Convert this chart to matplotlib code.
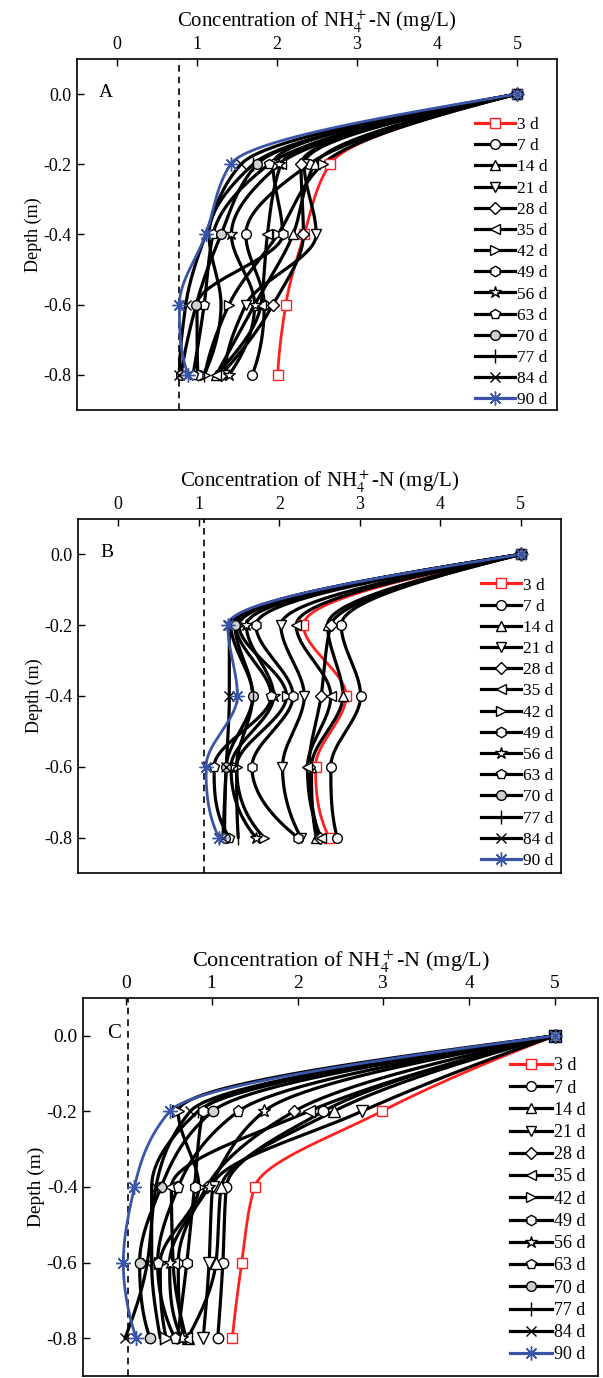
# %% imports
import numpy as np
import matplotlib
matplotlib.use('Agg')
import matplotlib.pyplot as plt
from matplotlib.lines import Line2D

# %% data (concentration in mg/L at each depth)
depth = [0.0, -0.2, -0.4, -0.6, -0.8]
days = ['3 d', '7 d', '14 d', '21 d', '28 d', '35 d', '42 d',
        '49 d', '56 d', '63 d', '70 d', '77 d', '84 d', '90 d']

concA = [
    [5, 2.66, 2.34, 2.11, 2.01],
    [5, 2.40, 1.61, 1.84, 1.69],
    [5, 2.47, 2.20, 1.72, 1.24],
    [5, 2.34, 2.49, 1.61, 1.35],
    [5, 2.30, 2.33, 1.95, 1.30],
    [5, 2.05, 1.88, 1.80, 1.24],
    [5, 2.57, 2.01, 1.40, 1.10],
    [5, 1.95, 2.07, 1.00, 1.01],
    [5, 2.03, 1.43, 1.72, 1.40],
    [5, 1.90, 1.20, 1.09, 0.95],
    [5, 1.75, 1.30, 0.99, 0.80],
    [5, 1.70, 1.15, 1.30, 1.09],
    [5, 1.55, 1.11, 0.86, 0.78],
    [5, 1.42, 1.11, 0.78, 0.89],
]
concB = [
    [5, 2.30, 2.83, 2.45, 2.62],
    [5, 2.77, 3.01, 2.64, 2.72],
    [5, 2.60, 2.79, 2.40, 2.46],
    [5, 2.02, 2.31, 2.04, 2.27],
    [5, 2.64, 2.52, 2.37, 2.50],
    [5, 2.21, 2.64, 2.35, 2.52],
    [5, 1.50, 2.09, 1.47, 1.81],
    [5, 1.71, 2.17, 1.66, 2.23],
    [5, 1.59, 1.93, 1.40, 1.71],
    [5, 1.46, 1.90, 1.19, 1.38],
    [5, 1.45, 1.67, 1.34, 1.32],
    [5, 1.40, 1.67, 1.47, 1.49],
    [5, 1.38, 1.38, 1.34, 1.30],
    [5, 1.36, 1.48, 1.09, 1.25],
]
concC = [
    [5, 2.98, 1.50, 1.35, 1.24],
    [5, 2.30, 1.17, 1.13, 1.07],
    [5, 2.42, 1.11, 1.05, 0.72],
    [5, 2.75, 1.01, 0.97, 0.90],
    [5, 1.96, 0.94, 0.61, 0.68],
    [5, 2.13, 0.53, 0.55, 0.70],
    [5, 0.61, 0.85, 0.40, 0.47],
    [5, 0.90, 0.80, 0.71, 0.60],
    [5, 1.61, 0.97, 0.51, 0.65],
    [5, 1.31, 0.61, 0.37, 0.57],
    [5, 1.01, 0.41, 0.16, 0.28],
    [5, 0.84, 0.30, 0.30, 0.40],
    [5, 0.75, 0.35, 0.25, -0.01],
    [5, 0.51, 0.10, -0.03, 0.12],
]
refline = [0.77, 1.07, 0.02]  # dashed vertical lines
panel_labels = ['A', 'B', 'C']

# %% styles
markers = ['s', 'o', '^', 'v', 'D', '<', '>', 'h', '*', 'p', 'o', '|', 'x', (8, 2, 0)]
msizes = [6.5, 7, 7.5, 7.5, 6, 7.5, 7.5, 7.5, 9, 7.5, 7, 10, 7, 10]
colors = ['#ff2020'] + ['black'] * 12 + ['#3a55a8']
faces = ['white'] * 10 + ['#d0d0d0'] + ['white'] * 3

plt.rcParams['font.family'] = ['Liberation Serif', 'DejaVu Serif']
plt.rcParams['mathtext.fontset'] = 'stix'


def pchip(yk, xk, n=40):
    # shape-preserving cubic x(y) through the points, for smooth drawing only
    t = -np.asarray(yk, float)
    v = np.asarray(xk, float)
    h = np.diff(t)
    dl = np.diff(v) / h
    m = len(t)
    d = np.zeros(m)
    for i in range(1, m - 1):
        if dl[i - 1] * dl[i] > 0:
            w1 = 2 * h[i] + h[i - 1]
            w2 = h[i] + 2 * h[i - 1]
            d[i] = (w1 + w2) / (w1 / dl[i - 1] + w2 / dl[i])
    for j, (a, b, ha, hb) in enumerate([(dl[0], dl[1], h[0], h[1]),
                                        (dl[-1], dl[-2], h[-1], h[-2])]):
        e = ((2 * ha + hb) * a - ha * b) / (ha + hb)
        if np.sign(e) != np.sign(a):
            e = 0.0
        elif np.sign(a) != np.sign(b) and abs(e) > abs(3 * a):
            e = 3 * a
        d[0 if j == 0 else -1] = e
    ts, vs = [], []
    for i in range(m - 1):
        s = np.linspace(0, 1, n)
        h00 = 2 * s**3 - 3 * s**2 + 1
        h10 = s**3 - 2 * s**2 + s
        h01 = -2 * s**3 + 3 * s**2
        h11 = s**3 - s**2
        vs.append(h00 * v[i] + h10 * h[i] * d[i] + h01 * v[i + 1] + h11 * h[i] * d[i + 1])
        ts.append(t[i] + s * h[i])
    return np.concatenate(vs), -np.concatenate(ts)


# %% figure
fig = plt.figure(figsize=(6.03, 13.78), dpi=100)
positions = [[0.1277, 0.7025, 0.796, 0.2547],
             [0.1294, 0.3665, 0.801, 0.2569],
             [0.1376, 0.0015, 0.854, 0.2743]]
scales = [1.0, 1.0, 1.07]
leg_anchor = [(0.83, 0.835), (0.835, 0.835), (0.83, 0.843)]
leg_font = [12.5, 12.5, 13.0]

for k, conc in enumerate([concA, concB, concC]):
    sc = scales[k]
    ax = fig.add_axes(positions[k])
    ax.axvline(refline[k], color='black', ls=(0, (4, 3)), lw=1.2)
    handles = []
    for i, xs in enumerate(conc):
        xx, yy = pchip(depth, xs)
        ax.plot(xx, yy, color=colors[i], lw=2.0 if i in (0, 13) else 2.3,
                solid_capstyle='round', zorder=2)
        ax.plot(xs, depth, ls='none', marker=markers[i], ms=msizes[i] * sc,
                mfc=faces[i], mec=colors[i], mew=1.0, zorder=3)
        handles.append(Line2D([], [], color=colors[i], lw=2.3,
                              marker=markers[i], ms=msizes[i],
                              mfc=faces[i], mec=colors[i], mew=1.0))
    ax.set_xlim(-0.5, 5.5)
    ax.set_ylim(-0.9, 0.1)
    ax.set_xticks([0, 1, 2, 3, 4, 5])
    ax.set_yticks([0.0, -0.2, -0.4, -0.6, -0.8])
    ax.set_yticklabels(['0.0', '-0.2', '-0.4', '-0.6', '-0.8'])
    ax.xaxis.tick_top()
    ax.xaxis.set_label_position('top')
    ax.tick_params(direction='in', length=5, width=1, labelsize=13 * sc,
                   top=True, bottom=False, right=False, pad=4)
    for sp in ax.spines.values():
        sp.set_linewidth(1.2)
    ax.set_xlabel('Concentration of NH$_4^+$-N (mg/L)', fontsize=15 * sc,
                  labelpad=6)
    ax.set_ylabel('Depth (m)', fontsize=13 * sc, labelpad=1)
    ax.text(0.06, 0.905, panel_labels[k], transform=ax.transAxes,
            fontsize=14 * sc, ha='center', va='center')
    ax.legend(handles, days, loc='upper left', bbox_to_anchor=leg_anchor[k],
              frameon=False, fontsize=leg_font[k], handlelength=2.3,
              handletextpad=0.1, labelspacing=0.29, borderpad=0,
              borderaxespad=0)

fig.savefig('out.png', dpi=100)
